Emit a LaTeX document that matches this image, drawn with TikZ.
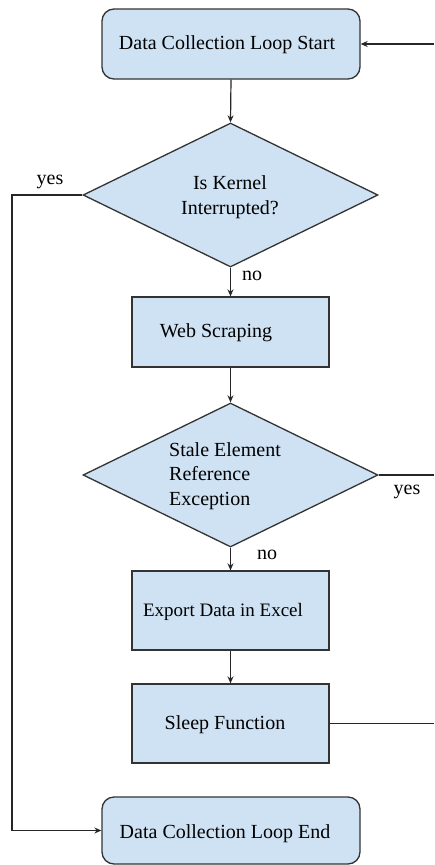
\documentclass[tikz,border=0pt]{standalone}
\usepackage{fontspec}
\setmainfont{Liberation Serif}
\usetikzlibrary{shapes.geometric,arrows.meta}
\definecolor{boxfill}{HTML}{CFE2F3}
\definecolor{boxdraw}{HTML}{333333}
\definecolor{linecol}{HTML}{262626}
\begin{document}
\begin{tikzpicture}[x=1pt,y=-1pt,
  txt/.style={font=\fontsize{20}{24.5}\selectfont, inner sep=0pt, text=black},
  rbox/.style={draw=boxdraw, fill=boxfill, line width=1.3pt, rounded corners=12pt, minimum width=258pt, minimum height=70pt, inner sep=0pt},
  sbox/.style={draw=boxdraw, fill=boxfill, line width=1.3pt, minimum width=197pt, inner sep=0pt},
  dia/.style={draw=boxdraw, fill=boxfill, line width=1.3pt, shape=diamond, minimum width=295pt, minimum height=144pt, inner sep=0pt},
  conn/.style={draw=linecol, line width=1.2pt},
  arr/.style={conn, -{Stealth[length=7pt,width=6pt]}}]
\useasboundingbox (0,0) rectangle (434,865);
\fill[white] (0,0) rectangle (434,865);

% shapes
\node[rbox] (start) at (231,44) {};
\node[dia] (d1) at (230.5,195) {};
\node[sbox, minimum height=70pt] (ws) at (230.5,332) {};
\node[dia] (d2) at (230.5,475) {};
\node[sbox, minimum height=79pt] (ex) at (230.5,610.5) {};
\node[sbox, minimum height=79pt] (sl) at (230.5,723.5) {};
\node[rbox, minimum height=67pt] (ends) at (231,830.5) {};

% texts
\node[txt] (starttxt) at (227,45) {Data Collection Loop Start};
\node[txt, align=center] (d1txt) at (230,197) {Is Kernel\\Interrupted?};
\node[txt] (wstxt) at (216,333) {Web Scraping};
\node[txt, align=left] (d2txt) at (225,476) {Stale Element\\Reference\\Exception};
\node[txt, font=\fontsize{19}{23}\selectfont] (extxt) at (223,612) {Export Data in Excel};
\node[txt] (sltxt) at (225,725) {Sleep Function};
\node[txt] (endtxt) at (225,834) {Data Collection Loop End};

% labels
\node[txt] (yes1) at (50,182) {yes};
\node[txt] (no1) at (252,276) {no};
\node[txt] (no2) at (267,555) {no};
\node[txt] (yes2) at (407,492) {yes};

% edge coordinates
\coordinate (lft) at (12,195);
\coordinate (r1) at (434,44);
\coordinate (r2) at (434,475);
\coordinate (r3) at (434,723.5);

% connectors
\draw[arr] (start.south) -- (d1.north);
\draw[arr] (d1.south) -- (ws.north);
\draw[arr] (ws.south) -- (d2.north);
\draw[arr] (d2.south) -- (ex.north);
\draw[arr] (ex.south) -- (sl.north);
\draw[arr] (d1.west) -- (lft) |- (ends.west);
\draw[arr] (r1) -- (start.east);
\draw[conn] (d2.east) -- (r2);
\draw[conn] (sl.east) -- (r3);
\end{tikzpicture}
\end{document}
